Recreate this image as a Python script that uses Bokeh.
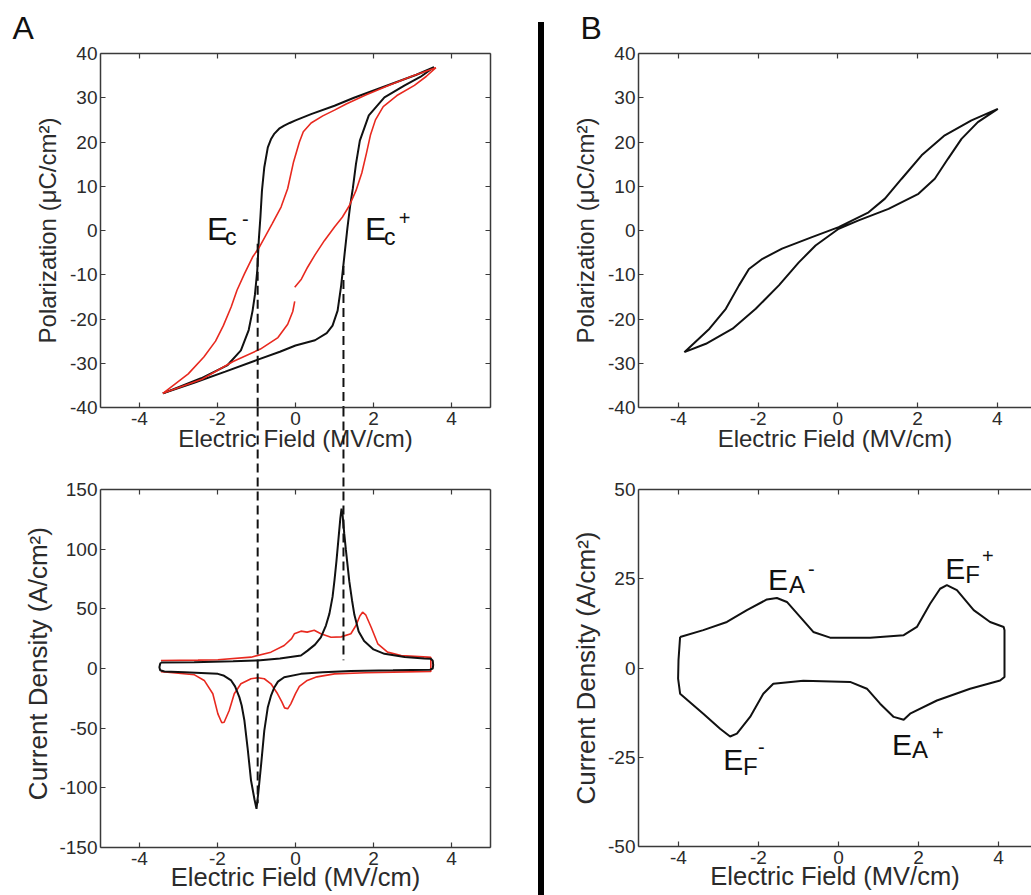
from bokeh.plotting import figure
from bokeh.models import Range1d, LinearAxis, FixedTicker, Label, Div, CustomLabelingPolicy
from bokeh.layouts import row, column
from bokeh.embed import file_html
from bokeh.resources import INLINE

# ---------------- data ----------------
# Panel A, polarization loops (E in MV/cm, P in uC/cm2)
pe_black_lower_E = [-3.40, -2.6, -1.8, -1.0, -0.4, 0.0, 0.5, 0.8, 0.95, 1.08, 1.17, 1.25, 1.33, 1.40, 1.47, 1.55, 1.65, 1.88, 2.28, 2.8, 3.2, 3.55]
pe_black_lower_P = [-36.8, -34.4, -31.9, -29.3, -27.4, -26.0, -24.8, -23.2, -21.5, -18.1, -12.5, -6.0, 0.5, 5.5, 9.5, 15.0, 20.3, 26.0, 30.1, 32.8, 34.7, 36.9]
pe_black_upper_E = [3.55, 3.1, 2.3, 1.5, 1.0, 0.4, 0.0, -0.15, -0.29, -0.42, -0.54, -0.63, -0.71, -0.80, -0.86, -0.90, -0.94, -0.98, -1.04, -1.10, -1.20, -1.40, -1.74, -2.42, -3.40]
pe_black_upper_P = [36.9, 35.2, 32.6, 30.0, 28.2, 26.3, 24.9, 24.3, 23.7, 23.0, 21.9, 20.6, 18.8, 14.3, 9.0, 3.0, -2.0, -9.0, -14.5, -18.1, -22.5, -27.1, -30.4, -33.4, -36.8]

pe_red_upper_E = [3.60, 3.0, 2.4, 1.8, 1.3, 1.0, 0.7, 0.4, 0.2, 0.1, -0.05, -0.2, -0.37, -0.6, -0.93, -1.10, -1.31, -1.5, -1.65, -1.85, -2.05, -2.35, -2.75, -3.40]
pe_red_upper_P = [36.8, 34.9, 32.8, 30.6, 28.6, 27.2, 25.9, 24.3, 22.3, 20.0, 15.5, 9.5, 5.3, 1.5, -3.8, -6.0, -9.8, -13.5, -17.3, -21.5, -25.0, -28.6, -32.4, -36.8]
pe_red_lower1_E = [-3.40, -2.9, -2.4, -1.6, -0.9, -0.45, -0.2, -0.07, -0.02]
pe_red_lower1_P = [-36.8, -35.2, -33.6, -29.6, -26.8, -24.2, -21.2, -18.3, -16.0]
pe_red_lower2_E = [-0.02, 0.15, 0.31, 0.5, 0.74, 1.0, 1.2, 1.38, 1.55, 1.7, 1.82, 1.92, 2.05, 2.25, 2.6, 3.05, 3.35, 3.60]
pe_red_lower2_P = [-12.8, -11.0, -8.3, -5.5, -2.3, 0.8, 3.0, 5.6, 9.0, 13.0, 17.5, 21.5, 25.0, 28.0, 30.5, 32.8, 34.8, 36.8]

# Panel A, current density loops (A/cm2)
je_black_E = [-3.45, -2.6, -1.6, -0.97, -0.4, 0.14, 0.31, 0.5, 0.65, 0.78, 0.87, 0.95, 1.0, 1.05, 1.10, 1.15, 1.18,
              1.21, 1.25, 1.29, 1.34, 1.38, 1.45, 1.51, 1.62, 1.76, 2.0, 2.28, 2.8, 3.30, 3.47, 3.52, 3.53, 3.52, 3.45,
              2.5, 1.42, 0.7, 0.14, -0.29, -0.45, -0.54, -0.63, -0.71, -0.80, -0.88, -0.95, -1.0, -1.05, -1.14, -1.23,
              -1.31, -1.38, -1.44, -1.55, -1.65, -1.85, -1.99, -2.85, -3.36, -3.47, -3.49, -3.47, -3.45]
je_black_J = [5.0, 5.3, 6.0, 6.8, 8.3, 10.9, 15.0, 20.0, 26.0, 36.0, 46.0, 60.0, 74.0, 90.0, 108.0, 126.0, 134.0,
              128.0, 113.0, 100.0, 85.0, 73.0, 57.0, 45.0, 31.0, 23.0, 16.0, 12.3, 9.6, 8.4, 8.1, 6.5, 3.0, 0.0, -1.0,
              -1.5, -2.0, -3.2, -4.5, -7.3, -11.0, -15.7, -23.0, -32.4, -52.0, -80.0, -103.0, -117.6, -110.0, -93.9, -66.0,
              -43.6, -31.0, -24.0, -15.0, -10.0, -5.8, -4.5, -3.1, -2.5, -1.5, 1.0, 4.0, 5.0]
je_red_E = [-3.45, -2.5, -1.99, -1.14, -0.63, -0.29, -0.1, -0.03, 0.14, 0.3, 0.48, 0.65, 0.91, 1.17, 1.42, 1.55, 1.65,
            1.72, 1.80, 1.94, 2.11, 2.36, 2.71, 3.39, 3.47,
            3.47, 2.5, 1.8, 1.0, 0.55, 0.30, 0.1, 0.0, -0.12, -0.20, -0.28, -0.35, -0.46, -0.63, -0.80, -0.97, -1.14,
            -1.40, -1.57, -1.70, -1.83, -1.89, -1.99, -2.12, -2.34, -2.59, -3.28, -3.45]
je_red_J = [6.7, 7.0, 7.3, 9.5, 13.7, 19.3, 25.0, 29.1, 31.3, 30.5, 32.0, 29.1, 26.2, 26.5, 29.1, 36.0, 44.0,
            47.2, 45.0, 34.6, 20.7, 13.7, 10.9, 9.5, 9.3,
            -2.5, -3.0, -3.5, -4.5, -7.0, -10.0, -15.0, -21.0, -29.6, -33.8, -33.0, -28.0, -21.2, -12.8, -8.6, -7.8, -8.6,
            -12.8, -21.2, -35.2, -45.0, -45.5, -38.0, -21.2, -10.0, -5.3, -3.1, -2.6]

# coercive field markers (E, and where the dashed guide stops)
ec_minus, ec_minus_P, ec_minus_J = -0.97, -3.0, -113.0
ec_plus, ec_plus_P, ec_plus_J = 1.23, -8.0, 7.0

# Panel B, polarization loop
pb_E = [-3.85, -3.31, -2.64, -2.06, -1.48, -0.98, -0.56, 0.02, 0.52, 1.27, 2.02, 2.43, 2.76, 3.10, 3.51, 4.01,
        3.35, 2.68, 2.10, 1.60, 1.18, 0.77, 0.02, -0.65, -1.40, -1.89, -2.23, -2.48, -2.81, -3.22, -3.85]
pb_P = [-27.5, -25.6, -22.2, -17.7, -12.4, -7.2, -3.4, 0.4, 2.3, 4.9, 8.3, 11.7, 16.2, 20.7, 24.5, 27.5,
        24.9, 21.5, 17.0, 11.7, 7.2, 4.1, 0.75, -1.5, -4.1, -6.4, -8.7, -12.4, -17.7, -22.2, -27.5]

# Panel B, current density loop
jb_E = [-3.96, -3.38, -2.79, -2.29, -1.79, -1.54, -1.29, -0.96, -0.63, -0.21, 0.79, 1.63, 1.96, 2.29, 2.54, 2.71,
        2.96, 3.38, 3.79, 4.13, 4.15, 4.15, 4.04, 3.29, 2.46, 1.79, 1.63, 1.38, 1.04, 0.71, 0.29, -0.88, -1.63,
        -1.88, -2.21, -2.54, -2.71, -2.96, -3.38, -3.96, -4.01, -4.0, -3.96]
jb_J = [8.7, 10.6, 12.9, 16.2, 19.2, 19.6, 18.5, 14.3, 10.1, 8.5, 8.5, 9.2, 11.5, 18.0, 22.2, 23.2,
        21.8, 16.2, 12.9, 11.5, 10.6, -2.5, -3.5, -5.8, -9.1, -12.8, -14.5, -13.7, -10.0, -5.8, -3.9, -3.6, -4.4,
        -7.2, -13.7, -18.4, -19.2, -17.0, -12.8, -7.2, -3.0, 2.2, 8.7]

x_ticks = [-4, -2, 0, 2, 4]
pa_yticks = [-40, -30, -20, -10, 0, 10, 20, 30, 40]
ja_yticks = [-150, -100, -50, 0, 50, 100, 150]
jb_yticks = [-50, -25, 0, 25, 50]

# ---------------- style ----------------
FONT = "Liberation Sans"
TXT = "#2b2b2b"
AX = "#3a3a3a"
BLACK = "#111111"
RED = "#e8291f"

HIDE_LABELS = CustomLabelingPolicy(code="""
for (const i of Array.from(indices.ones())) {
  if (typeof indices.unset === "function") { indices.unset(i) } else { indices.set(i, false) }
}
return indices
""")


def style_axis(ax, ticks, show, standoff=3):
    ax.ticker = FixedTicker(ticks=ticks)
    ax.major_tick_in = 5
    ax.major_tick_out = 0
    ax.minor_tick_line_color = None
    ax.axis_line_color = AX
    ax.axis_line_width = 1.5
    ax.major_tick_line_color = AX
    ax.major_tick_line_width = 1.2
    ax.major_label_text_font = FONT
    ax.major_label_text_color = TXT
    ax.major_label_overrides = {t: str(t) for t in ticks}
    if show:
        ax.major_label_text_font_size = "19px"
        ax.major_label_standoff = standoff
    else:
        ax.major_label_text_font_size = "0px"
        ax.major_label_standoff = 0
        ax.major_label_policy = HIDE_LABELS


def make_fig(width, height, xr, yr, yticks, xlabel, ylabel, mbl, mbt, mbb, mbr, xlab_size, ylab_size,
             xl_stand, yl_stand, right=True, ybounds=None, top_loc=None):
    p = figure(width=width, height=height, x_range=Range1d(*xr), y_range=Range1d(*yr),
               output_backend="svg", toolbar_location=None,
               min_border_left=mbl, min_border_top=mbt, min_border_bottom=mbb, min_border_right=mbr)
    p.xgrid.visible = False
    p.ygrid.visible = False
    p.outline_line_color = None
    xa = p.xaxis[0]
    ya = p.yaxis[0]
    style_axis(xa, x_ticks, True, 4)
    style_axis(ya, yticks, True, 3)
    for ax, lab, size in ((xa, xlabel, xlab_size), (ya, ylabel, ylab_size)):
        ax.axis_label = lab
        ax.axis_label_text_font = FONT
        ax.axis_label_text_font_style = "normal"
        ax.axis_label_text_font_size = size
        ax.axis_label_text_color = TXT
    xa.axis_label_standoff = xl_stand
    ya.axis_label_standoff = yl_stand
    top = LinearAxis()
    style_axis(top, x_ticks, False)
    if top_loc is not None:
        top.fixed_location = top_loc
    p.add_layout(top, "above")
    if right:
        r = LinearAxis()
        style_axis(r, yticks, False)
        if ybounds is not None:
            r.bounds = ybounds
        p.add_layout(r, "right")
    if ybounds is not None:
        ya.bounds = ybounds
    return p


def e_label(p, x_e, y_e, sub, x_sub, y_sub, sup, x_sup, y_sup, e_size, sub_size, sup_size):
    for t, x, y, s in (("E", x_e, y_e, e_size), (sub, x_sub, y_sub, sub_size), (sup, x_sup, y_sup, sup_size)):
        p.add_layout(Label(x=x, y=y, text=t, text_font=FONT, text_font_size=s, text_color="#111111",
                           text_align="left", text_baseline="alphabetic"))


def panel_letter(p, letter, offset):
    p.title.text = letter
    p.title.text_font = FONT
    p.title.text_font_size = "32px"
    p.title.text_font_style = "normal"
    p.title.text_color = "#111111"
    p.title.align = "left"
    p.title.vertical_align = "top"
    p.title.offset = offset
    p.title.standoff = 12


XL = "Electric Field (MV/cm)"
PL = "Polarization (\u03bcC/cm\u00b2)"
JL = "Current Density (A/cm\u00b2)"

# ----- Panel A top -----
pA1 = make_fig(538, 466, (-5, 5), (-40, 40), pa_yticks, XL, PL, 100, 53, 59, 48, "24px", "24px", -3, 6)
pA1.line(pe_black_lower_E, pe_black_lower_P, line_color=BLACK, line_width=2)
pA1.line(pe_black_upper_E, pe_black_upper_P, line_color=BLACK, line_width=2)
pA1.line(pe_red_upper_E, pe_red_upper_P, line_color=RED, line_width=1.6)
pA1.line(pe_red_lower1_E, pe_red_lower1_P, line_color=RED, line_width=1.6)
pA1.line(pe_red_lower2_E, pe_red_lower2_P, line_color=RED, line_width=1.6)
pa_bottom = pA1.y_range.start
pA1.segment(x0=[ec_minus, ec_plus], y0=[ec_minus_P, ec_plus_P], x1=[ec_minus, ec_plus], y1=[pa_bottom, pa_bottom],
            line_color=BLACK, line_width=2, line_dash="9 5")
e_label(pA1, -2.27, 0.4, "c", -1.81, -1.4, "-", -1.37, 2.7, "32px", "23px", "20px")
e_label(pA1, 1.78, 0.4, "c", 2.27, -1.4, "+", 2.65, 2.9, "32px", "23px", "20px")
panel_letter(pA1, "A", -88)

# ----- Panel A bottom (transparent, overlapping the gap so guides can cross it) -----
GAP_PX, PANEL_PX = 82, 358
J_TOP = 150 + GAP_PX * 300 / PANEL_PX
# the frame of this figure also covers the gap, so the label is padded to sit centred on the panel itself
JL_A = JL + "\u00a0" * 10
pA2 = make_fig(538, 498, (-5, 5), (-150, J_TOP), ja_yticks, XL, JL_A, 100, 10, 48, 48, "25.5px", "26px", -5, 3,
               ybounds=(-150, 150), top_loc=150)
pA2.border_fill_color = None
pA2.background_fill_color = None
pA2.margin = (-69, 0, 0, 0)
pA2.line(je_red_E, je_red_J, line_color=RED, line_width=1.6)
pA2.line(je_black_E, je_black_J, line_color=BLACK, line_width=2)
pA2.segment(x0=[ec_minus, ec_plus], y0=[J_TOP, J_TOP], x1=[ec_minus, ec_plus], y1=[ec_minus_J, ec_plus_J],
            line_color=BLACK, line_width=2, line_dash="9 5")

# ----- Panel B top -----
pB1 = make_fig(487, 466, (-5, 4.855), (-40, 40), pa_yticks, XL, PL, 92, 53, 59, 0, "24px", "24px", -3, 6,
               right=False)
pB1.line(pb_E, pb_P, line_color=BLACK, line_width=2)
panel_letter(pB1, "B", -58)

# ----- Panel B bottom -----
pB2 = make_fig(487, 429, (-5, 4.825), (-50, 50), jb_yticks, XL, JL, 94, 23, 49, 0, "25.5px", "26px", -5, 4,
               right=False)
pB2.line(jb_E, jb_J, line_color=BLACK, line_width=2)
e_label(pB2, -1.76, 24.8, "A", -1.24, 23.4, "-", -0.76, 27.6, "30px", "24px", "20px")
e_label(pB2, 2.67, 27.9, "F", 3.17, 26.2, "+", 3.59, 31.3, "30px", "24px", "20px")
e_label(pB2, -2.88, -25.7, "F", -2.39, -27.5, "-", -2.01, -22.2, "30px", "24px", "20px")
e_label(pB2, 1.34, -21.4, "A", 1.84, -22.8, "+", 2.34, -18.3, "30px", "24px", "20px")

divider = Div(text="", width=6, height=873, margin=(22, 0, 0, 0),
              styles={"background-color": "#000000"})

layout = row(column(pA1, pA2), divider, column(pB1, pB2))

open("out.html", "w").write(file_html(layout, INLINE))
